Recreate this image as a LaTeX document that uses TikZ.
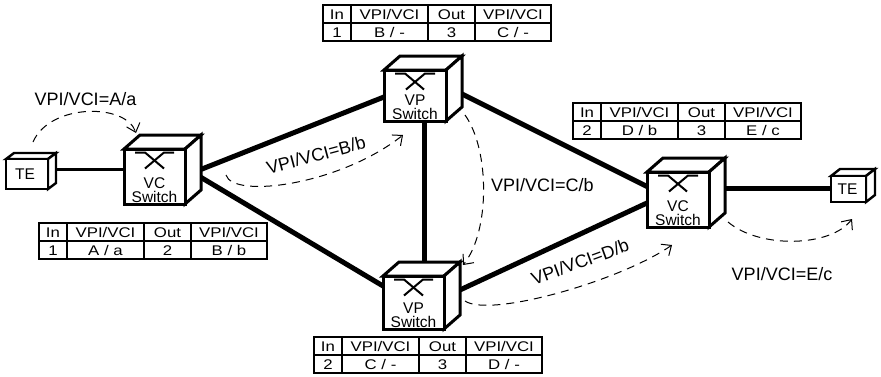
\documentclass[tikz,border=0pt]{standalone}
\usepackage{fontspec}
\setmainfont{Liberation Sans}
\newfontfamily\tabfont{Liberation Sans}[FakeStretch=1.2]
\usetikzlibrary{calc,arrows.meta}
\pgfdeclarelayer{background}
\pgfdeclarelayer{paper}
\pgfsetlayers{paper,background,main}

\tikzset{
  cubeface/.style={draw, line width=3pt, fill=white},
  frontface/.style={cubeface, inner sep=0pt, outer sep=0pt, anchor=north west},
  tefront/.style={frontface, line width=2.4pt},
  teface/.style={cubeface, line width=2.4pt},
  xsym/.style={line width=2pt},
  swlabel/.style={inner sep=0pt, align=center, font=\fontsize{15.5}{13.5}\selectfont},
  telabel/.style={inner sep=0pt, font=\fontsize{15.5}{17}\selectfont},
  link/.style={line width=5pt},
  thinlink/.style={line width=3pt},
  flow/.style={dash pattern=on 8pt off 6pt, line width=1pt, -{Straight Barb[length=8pt,width=14pt]}},
  lbl/.style={font=\fontsize{18}{20}\selectfont, inner sep=0pt},
  tabbox/.style={draw, line width=1.1pt, inner sep=0pt, outer sep=0pt, anchor=north west},
  tabline/.style={line width=1.1pt},
  tabtext/.style={font=\tabfont\fontsize{14}{16}\selectfont, inner sep=0pt, anchor=base},
}

% #1 name, #2 x, #3 y, #4 w, #5 h, #6 dx, #7 dy, #8 face style
\newcommand\mycube[8]{%
  \draw[#8] (#2,#3) -- ++(#6,-#7) -- ++(#4,0) -- ++(-#6,#7) -- cycle;
  \draw[#8] (#2+#4,#3) -- ++(#6,-#7) -- ++(0,#5) -- ++(-#6,#7) -- cycle;
}
\newcommand\myswitch[6]{% name x y w h text
  \mycube{#1}{#2}{#3}{#4}{#5}{16}{14}{cubeface}
  \node[frontface, minimum width=#4pt, minimum height=#5pt] (#1) at (#2,#3) {};
  \draw[xsym] ($(#1.north west)+(11,3.5)$) -- ++(10,0) -- ++(19,16);
  \draw[xsym] ($(#1.north west)+(#4-11,3.5)$) -- ++(-10,0) -- ++(-19,16);
  \node[swlabel, anchor=south] (#1-t) at ($(#1.south)+(0,-1.5)$) {#6\\Switch};
}
% name x y in vpi out vpi
\newcommand\vctable[7]{%
  \node[tabbox, minimum width=228pt, minimum height=36pt] (#1) at (#2,#3) {};
  \draw[tabline] (#1.west) -- (#1.east);
  \draw[tabline] ($(#1.north west)+(28,0)$) -- ($(#1.south west)+(28,0)$);
  \draw[tabline] ($(#1.north west)+(105,0)$) -- ($(#1.south west)+(105,0)$);
  \draw[tabline] ($(#1.north west)+(152,0)$) -- ($(#1.south west)+(152,0)$);
  \node[tabtext] (#1-h1) at ($(#1.north west)+(14,14.5)$) {In};
  \node[tabtext] (#1-h2) at ($(#1.north west)+(66.5,14.5)$) {VPI/VCI};
  \node[tabtext] (#1-h3) at ($(#1.north west)+(128.5,14.5)$) {Out};
  \node[tabtext] (#1-h4) at ($(#1.north west)+(190,14.5)$) {VPI/VCI};
  \node[tabtext] (#1-r1) at ($(#1.north west)+(14,32)$) {#4};
  \node[tabtext] (#1-r2) at ($(#1.north west)+(66.5,32)$) {#5};
  \node[tabtext] (#1-r3) at ($(#1.north west)+(128.5,32)$) {#6};
  \node[tabtext] (#1-r4) at ($(#1.north west)+(190,32)$) {#7};
}

\begin{document}
\begin{tikzpicture}[x=1pt,y=-1pt]
\useasboundingbox (0,0) rectangle (881,376);
\begin{pgfonlayer}{paper}
  \fill[white] (0,0) rectangle (881,376);
\end{pgfonlayer}

% terminals
\mycube{tel}{6}{159}{42}{30}{8}{6}{teface}
\node[tefront, minimum width=42pt, minimum height=30pt] (tel) at (6,159) {};
\node[telabel] (tel-t) at ($(tel.center)+(-2,0.5)$) {TE};

\mycube{ter}{831}{176}{35}{26}{9}{7}{teface}
\node[tefront, minimum width=35pt, minimum height=26pt] (ter) at (831,176) {};
\node[telabel] (ter-t) at ($(ter.center)+(-1,0.5)$) {TE};

% switches
\myswitch{vc1}{124}{149}{61}{55}{VC}
\myswitch{vpt}{384}{70}{62}{51}{VP}
\myswitch{vpb}{383}{276}{61}{53}{VP}
\myswitch{vc2}{647}{172}{62}{55}{VC}

% links
\begin{pgfonlayer}{background}
  \draw[thinlink] ($(tel.center)+(0,-5)$) -- ($(vc1.center)+(0,-7.5)$);
  \draw[link] ($(vc1.center)+(0,11.3)$) -- ($(vpt.center)+(0,-10.8)$);
  \draw[link] ($(vc1.center)+(20.5,-14.6)$) -- ($(vpb.center)+(-13.5,-6.4)$);
  \draw[link] ($(vpt.center)+(9,14.5)$) -- ($(vpb.center)+(10.5,-12.5)$);
  \draw[link] ($(vpt.center)+(15,-17.5)$) -- ($(vc2.center)+(-13,-4)$);
  \draw[link] ($(vpb.center)+(16.5,1.4)$) -- ($(vc2.center)+(-13,-4.9)$);
  \draw[link] ($(vc2.center)+(22,-11.2)$) -- ($(ter.center)+(0,-0.7)$);
\end{pgfonlayer}

% tables
\vctable{tab1}{39}{223}{1}{A / a}{2}{B / b}
\vctable{tab2}{323}{5}{1}{B / -}{3}{C / -}
\vctable{tab3}{573}{103}{2}{D / b}{3}{E / c}
\vctable{tab4}{314}{337}{2}{C / -}{3}{D / -}

% flows
\coordinate (fa-s) at (33,142);  \coordinate (fa-e) at (136,133);
\coordinate (fb-s) at (226,175); \coordinate (fb-e) at (403,135);
\coordinate (fc-s) at (465,115); \coordinate (fc-e) at (463,265);
\coordinate (fd-s) at (465,301); \coordinate (fd-e) at (672,245);
\coordinate (fe-s) at (728,222); \coordinate (fe-e) at (852,219);
\draw[flow] (fa-s) .. controls (50,103) and (126,103) .. (fa-e);
\draw[flow] (fb-s) .. controls (233,199) and (340,185) .. (fb-e);
\draw[flow] (fc-s) .. controls (490,150) and (490,232) .. (fc-e);
\draw[flow] (fd-s) .. controls (490,318) and (620,281) .. (fd-e);
\draw[flow] (fe-s) .. controls (760,249) and (831,247) .. (fe-e);

% labels
\node[lbl, anchor=base] (lab-a) at (85.5,105) {VPI/VCI=A/a};
\node[lbl, rotate=15] (lab-b) at (316,155) {VPI/VCI=B/b};
\node[lbl, anchor=base west] (lab-c) at (491,191.5) {VPI/VCI=C/b};
\node[lbl, rotate=20] (lab-d) at (580,262) {VPI/VCI=D/b};
\node[lbl, anchor=base] (lab-e) at (782,280) {VPI/VCI=E/c};
\end{tikzpicture}
\end{document}
